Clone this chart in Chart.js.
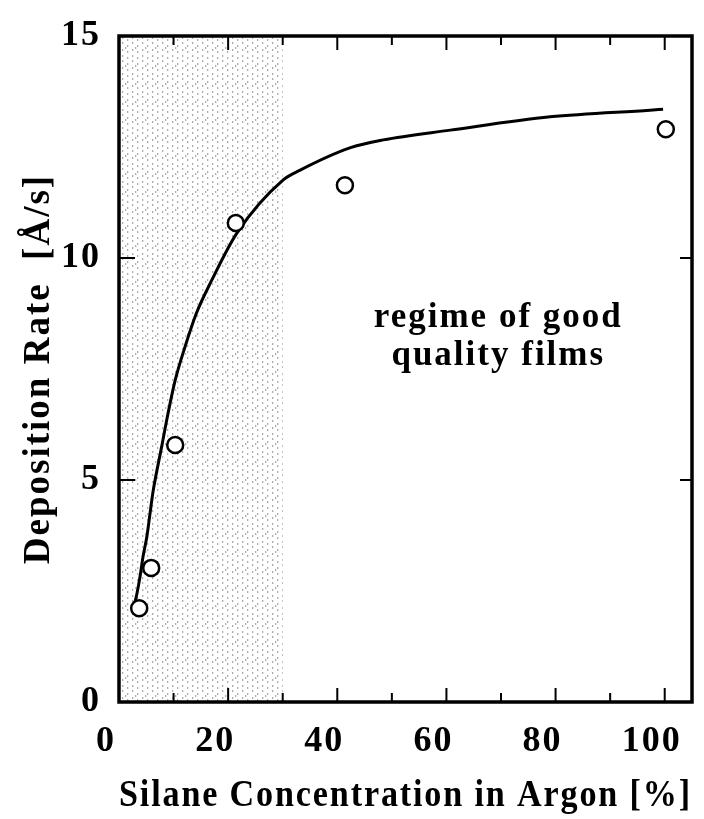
<!DOCTYPE html>
<html>
<head>
<meta charset="utf-8">
<script src="https://cdn.jsdelivr.net/npm/chart.js@4.4.1/dist/chart.umd.min.js"></script>
<style>
  html, body { margin: 0; padding: 0; background: #fff; }
  #wrap { width: 704px; height: 819px; }
</style>
</head>
<body>
<div id="wrap"><canvas id="c" width="704" height="819"></canvas></div>
<script>
// Measured points (Silane concentration [%], deposition rate [Å/s])
const pointX = [3.7, 5.9, 10.3, 21.4, 41.4, 100.2];
const pointY = [2.11, 3.02, 5.79, 10.79, 11.64, 12.9];

// Hand-drawn trend curve
const curveX = [2.9, 3.3, 3.85, 4.4, 5.1, 5.7, 6.2, 7.8, 9.0, 10.3, 12.1, 14.2, 17.0, 21.6, 30.1, 33.2, 42.3, 48.4, 60.7, 79.0, 97.3, 99.7];
const curveY = [2.23, 2.45, 2.82, 3.27, 3.72, 4.26, 4.71, 5.74, 6.51, 7.25, 8.0, 8.76, 9.5, 10.56, 11.76, 11.98, 12.48, 12.66, 12.88, 13.18, 13.33, 13.35];

// Axis ticks
const xTickValues = [0, 20, 40, 60, 80, 100];
const yTickValues = [0, 5, 10, 15];
const xMinorTicks = [10, 20, 30, 40, 50, 60, 70, 80, 90, 100];
const yInnerTicks = [5, 10];

// Shaded regime (x range)
const shadedRange = [0, 30];

// Annotation
const noteLines = ["regime of good", "quality films"];
const noteAnchor = [69.5, 8.45]; // x, y of first line baseline
const noteLineStep = 0.86;       // y-units between lines

const FONT = "'Liberation Serif', 'Times New Roman', serif";

function makePattern(ctx) {
  const p = document.createElement('canvas');
  p.width = 10; p.height = 18;
  const g = p.getContext('2d');
  g.fillStyle = 'rgba(60,60,60,0.42)';
  const dots = [[2,1],[2,6],[2,13],[7,3],[7,9],[7,15],[5,11]];
  dots.forEach(d => g.fillRect(d[0], d[1], 1.3, 2));
  return ctx.createPattern(p, 'repeat');
}

function setSpacing(chart) {
  try { chart.ctx.letterSpacing = '2px'; } catch (e) {}
}

const decor = {
  id: 'decor',
  beforeLayout(chart) { setSpacing(chart); },
  beforeDraw(chart) { setSpacing(chart); },
  beforeDatasetsDraw(chart) {
    const {ctx, chartArea: a, scales: {x, y}} = chart;
    ctx.save();
    const x0 = x.getPixelForValue(shadedRange[0]);
    const x1 = x.getPixelForValue(shadedRange[1]);
    ctx.fillStyle = makePattern(ctx);
    ctx.fillRect(x0, a.top, x1 - x0, a.bottom - a.top);
    ctx.restore();
  },
  afterDraw(chart) {
    const {ctx, chartArea: a, scales: {x, y}} = chart;
    ctx.save();
    ctx.strokeStyle = '#000';
    ctx.lineWidth = 3.5;
    ctx.strokeRect(a.left, a.top, a.right - a.left, a.bottom - a.top);
    ctx.lineWidth = 2;
    ctx.beginPath();
    xMinorTicks.forEach(v => {
      const px = x.getPixelForValue(v);
      const len = (v % 20 === 0) ? 14 : 9;
      ctx.moveTo(px, a.bottom); ctx.lineTo(px, a.bottom - len);
      ctx.moveTo(px, a.top); ctx.lineTo(px, a.top + len);
    });
    yInnerTicks.forEach(v => {
      const py = y.getPixelForValue(v);
      ctx.moveTo(a.left, py); ctx.lineTo(a.left + 16, py);
      ctx.moveTo(a.right, py); ctx.lineTo(a.right - 12, py);
    });
    ctx.stroke();

    ctx.fillStyle = '#000';
    ctx.font = 'bold 35px ' + FONT;
    ctx.textAlign = 'center';
    ctx.textBaseline = 'alphabetic';
    setSpacing(chart);
    noteLines.forEach((t, i) => {
      ctx.fillText(t, x.getPixelForValue(noteAnchor[0]), y.getPixelForValue(noteAnchor[1] - i * noteLineStep));
    });
    ctx.restore();
  }
};

new Chart(document.getElementById('c'), {
  type: 'scatter',
  data: {
    datasets: [
      {
        type: 'line',
        data: curveX.map((v, i) => ({x: v, y: curveY[i]})),
        borderColor: '#000',
        borderWidth: 3,
        pointRadius: 0,
        fill: false,
        cubicInterpolationMode: 'monotone',
        order: 2
      },
      {
        data: pointX.map((v, i) => ({x: v, y: pointY[i]})),
        pointRadius: 8,
        pointBorderWidth: 2.5,
        pointBorderColor: '#000',
        pointBackgroundColor: '#fff',
        showLine: false,
        order: 1
      }
    ]
  },
  options: {
    responsive: false,
    animation: false,
    events: [],
    layout: { padding: { left: 0, top: 36, right: 12, bottom: 0 } },
    plugins: { legend: { display: false }, tooltip: { enabled: false } },
    scales: {
      x: {
        type: 'linear',
        min: 0, max: 105,
        afterBuildTicks(s) { s.ticks = xTickValues.map(v => ({value: v})); },
        afterFit(s) { s.height = 117; s.paddingLeft = 0; s.paddingRight = 0; },
        grid: { display: false, drawTicks: false },
        border: { display: false },
        ticks: {
          padding: 18,
          labelOffset: -13,
          color: '#000',
          maxRotation: 0,
          autoSkip: false,
          font: { family: FONT, size: 36, weight: 'bold' }
        },
        title: {
          display: true,
          text: 'Silane Concentration in Argon [%]',
          color: '#000',
          padding: { top: 0, bottom: 0 },
          font: { family: FONT, size: 37, weight: 'bold' }
        }
      },
      y: {
        type: 'linear',
        min: 0, max: 15,
        afterBuildTicks(s) { s.ticks = yTickValues.map(v => ({value: v})); },
        afterFit(s) { s.width = 119; s.paddingTop = 0; s.paddingBottom = 0; },
        grid: { display: false, drawTicks: false },
        border: { display: false },
        ticks: {
          padding: 18,
          color: '#000',
          autoSkip: false,
          font: { family: FONT, size: 36, weight: 'bold' }
        },
        title: {
          display: true,
          text: 'Deposition Rate  [Å/s]',
          color: '#000',
          padding: { top: 17, bottom: 0 },
          font: { family: FONT, size: 37, weight: 'bold' }
        }
      }
    }
  },
  plugins: [decor]
});
</script>
</body>
</html>
